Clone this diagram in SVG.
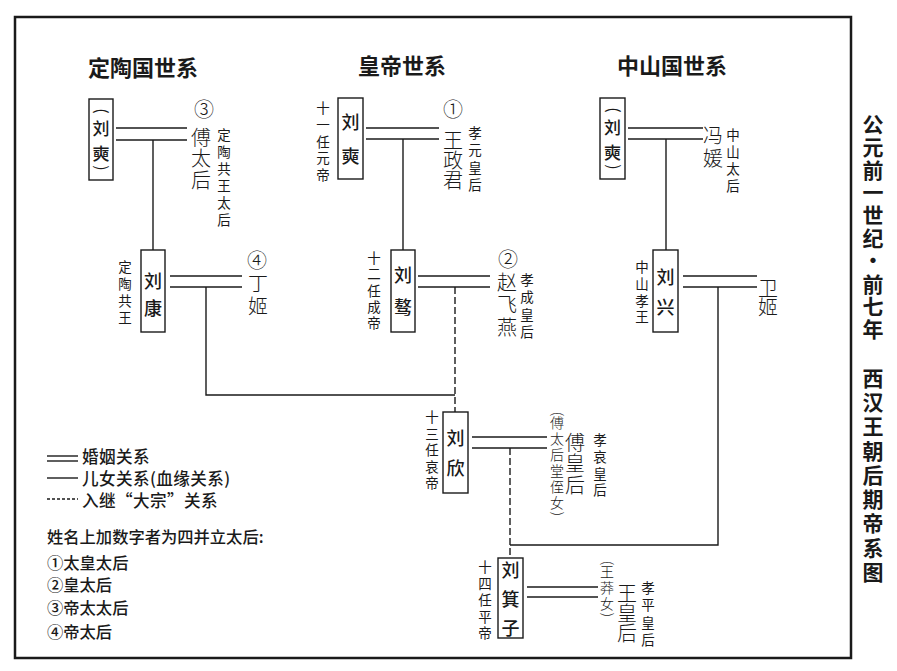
<svg xmlns="http://www.w3.org/2000/svg" width="897" height="671" viewBox="0 0 897 671">
<style>
text{font-family:"Noto Sans CJK SC","Noto Sans CJK TC",sans-serif;fill:#1a1a1a;text-anchor:middle}
.v{writing-mode:vertical-rl;text-anchor:start}
.ti{font-size:22px;font-weight:700}
.nm{font-size:18px;font-weight:500}
.np{font-size:17px;font-weight:500}
.bg{font-size:20px;font-weight:300}
.cn{font-size:20px;font-weight:300}
.sm{font-size:13.5px;font-weight:400}
.md{font-size:14px;font-weight:300}
.pp{font-size:16px;font-weight:400}
.pm{font-size:14px;font-weight:300}
.lg{font-size:16.3px;font-weight:500;text-anchor:start}
.lb{font-size:16.6px;font-weight:500;text-anchor:start;letter-spacing:0.4px}
.vt{font-size:21px;font-weight:700}
.bx{fill:#fff;stroke:#1a1a1a;stroke-width:1.4}
.ln{fill:none;stroke:#1a1a1a;stroke-width:1.4}
.da{stroke-dasharray:7 3}
.fr{fill:none;stroke:#1a1a1a;stroke-width:2.5}
</style>
<rect x="0" y="0" width="897" height="671" fill="#fff"/>
<rect class="fr" x="15" y="17" width="836" height="641"/>

<text class="ti" x="143" y="76">定陶国世系</text>
<text class="ti" x="402" y="74">皇帝世系</text>
<text class="ti" x="672" y="74">中山国世系</text>

<g id="connectors">
<line class="ln" x1="116" y1="128" x2="187" y2="128"/>
<line class="ln" x1="116" y1="140" x2="187" y2="140"/>
<line class="ln" x1="153" y1="140" x2="153" y2="250"/>
<line class="ln" x1="170" y1="276" x2="242" y2="276"/>
<line class="ln" x1="170" y1="287" x2="242" y2="287"/>
<polyline class="ln" points="206,287 206,395 455,395"/>
<line class="ln" x1="366" y1="128" x2="439" y2="128"/>
<line class="ln" x1="366" y1="139" x2="439" y2="139"/>
<line class="ln" x1="403" y1="139" x2="403" y2="250"/>
<line class="ln" x1="418" y1="276" x2="490" y2="276"/>
<line class="ln" x1="418" y1="287" x2="490" y2="287"/>
<line class="ln da" x1="455" y1="287" x2="455" y2="412"/>
<line class="ln" x1="628" y1="128" x2="703" y2="128"/>
<line class="ln" x1="628" y1="139" x2="703" y2="139"/>
<line class="ln" x1="666" y1="139" x2="666" y2="250"/>
<line class="ln" x1="683" y1="276" x2="757" y2="276"/>
<line class="ln" x1="683" y1="287" x2="757" y2="287"/>
<polyline class="ln" points="718,287 718,545 510,545"/>
<line class="ln" x1="472" y1="437" x2="547" y2="437"/>
<line class="ln" x1="472" y1="448" x2="547" y2="448"/>
<line class="ln da" x1="510" y1="448" x2="510" y2="558"/>
<line class="ln" x1="527" y1="587" x2="598" y2="587"/>
<line class="ln" x1="527" y1="597" x2="598" y2="597"/>
</g>

<g id="dt-liushi">
<rect class="bx" x="89" y="99" width="24" height="81"/>
<text class="pp" transform="translate(101 111) rotate(90)" x="0" y="5">(</text>
<text class="np v" x="101" y="120" letter-spacing="8">刘奭</text>
<text class="pp" transform="translate(101 168) rotate(90)" x="0" y="5">)</text>
</g>
<g id="dt-futaihou">
<text class="cn" x="204" y="117">③</text>
<text class="bg v" x="201" y="127" letter-spacing="1.5">傅太后</text>
<text class="sm v" x="224" y="128.25" letter-spacing="3.5">定陶共王太后</text>
</g>
<g id="dt-liukang">
<rect class="bx" x="141" y="250" width="24" height="82"/>
<text class="nm v" x="153" y="272" letter-spacing="9">刘康</text>
<text class="sm v" x="125" y="260.25" letter-spacing="3.5">定陶共王</text>
</g>
<g id="dt-dingji">
<text class="cn" x="257" y="268">④</text>
<text class="bg v" x="258" y="273" letter-spacing="3">丁姬</text>
</g>

<g id="hd-liushi">
<rect class="bx" x="338" y="98" width="25" height="81"/>
<text class="nm v" x="350.5" y="113" letter-spacing="16">刘奭</text>
<text class="sm v" x="323" y="101.25" letter-spacing="3.25">十一任元帝</text>
</g>
<g id="hd-wangzhengjun">
<text class="cn" x="453" y="117">①</text>
<text class="bg v" x="453" y="130" letter-spacing="0">王政君</text>
<text class="sm v" x="475" y="126.25" letter-spacing="3.8">孝元皇后</text>
</g>
<g id="hd-liuao">
<rect class="bx" x="391" y="250" width="24" height="82"/>
<text class="nm v" x="403" y="266" letter-spacing="14">刘骜</text>
<text class="sm v" x="374" y="251.25" letter-spacing="2.75">十二任成帝</text>
</g>
<g id="hd-zhaofeiyan">
<text class="cn" x="508" y="267">②</text>
<text class="bg v" x="507" y="272" letter-spacing="2.5">赵飞燕</text>
<text class="sm v" x="527" y="273.25" letter-spacing="3.8">孝成皇后</text>
</g>

<g id="zs-liushi">
<rect class="bx" x="600" y="98" width="25" height="81"/>
<text class="pp" transform="translate(612.5 110) rotate(90)" x="0" y="5">(</text>
<text class="np v" x="612.5" y="119" letter-spacing="8">刘奭</text>
<text class="pp" transform="translate(612.5 167) rotate(90)" x="0" y="5">)</text>
</g>
<g id="zs-fengyuan">
<text class="bg v" x="713" y="125" letter-spacing="3">冯媛</text>
<text class="sm v" x="733" y="128.25" letter-spacing="3.5">中山太后</text>
</g>
<g id="zs-liuxing">
<rect class="bx" x="653" y="250" width="25" height="82"/>
<text class="nm v" x="665.5" y="268" letter-spacing="12">刘兴</text>
<text class="sm v" x="642" y="260.25" letter-spacing="3.2">中山孝王</text>
</g>
<g id="zs-weiji">
<text class="bg v" x="768" y="278" letter-spacing="-1">卫姬</text>
</g>

<g id="liuxin">
<rect class="bx" x="443" y="412" width="25" height="81"/>
<text class="nm v" x="455.5" y="429" letter-spacing="12">刘欣</text>
<text class="sm v" x="432" y="410.25" letter-spacing="3">十三任哀帝</text>
</g>
<g id="fuhuanghou">
<text class="pm" transform="translate(557 414) rotate(90)" x="0" y="4.5">(</text>
<text class="md v" x="557" y="416" letter-spacing="2">傅太后堂侄女</text>
<text class="pm" transform="translate(557 514) rotate(90)" x="0" y="4.5">)</text>
<text class="bg v" x="575" y="432" letter-spacing="1.5">傅皇后</text>
<text class="sm v" x="600" y="433.25" letter-spacing="3.2">孝哀皇后</text>
</g>
<g id="liujizi">
<rect class="bx" x="498" y="558" width="25" height="80"/>
<text class="nm v" x="510.5" y="561" letter-spacing="11">刘箕子</text>
<text class="sm v" x="485" y="560.25" letter-spacing="3">十四任平帝</text>
</g>
<g id="wanghuanghou">
<text class="pm" transform="translate(607 563) rotate(90)" x="0" y="4.5">(</text>
<text class="md v" x="607" y="565" letter-spacing="2">王莽女</text>
<text class="pm" transform="translate(607 615) rotate(90)" x="0" y="4.5">)</text>
<text class="bg v" x="627" y="583" letter-spacing="0">王皇后</text>
<text class="sm v" x="648" y="581.25" letter-spacing="3.8">孝平皇后</text>
</g>

<g id="legend">
<line class="ln" x1="47" y1="456" x2="78" y2="456"/>
<line class="ln" x1="47" y1="461" x2="78" y2="461"/>
<line class="ln" x1="47" y1="478" x2="78" y2="478"/>
<line class="ln" x1="47" y1="499" x2="78" y2="499" stroke-dasharray="3 2" stroke-width="1"/>
<text class="lb" x="82" y="463">婚姻关系</text>
<text class="lb" x="82" y="485">儿女关系(血缘关系)</text>
<text class="lb" x="82" y="507">入继“大宗”关系</text>
<text class="lg" x="47" y="543">姓名上加数字者为四并立太后:</text>
<text class="lg" x="47" y="569">①太皇太后</text>
<text class="lg" x="47" y="591">②皇太后</text>
<text class="lg" x="47" y="614">③帝太太后</text>
<text class="lg" x="47" y="638">④帝太后</text>
</g>

<g id="title">
<text class="vt v" x="873" y="113.5" letter-spacing="1.8">公元前一世纪</text>
<text class="vt" x="873" y="268">·</text>
<text class="vt v" x="873" y="273.1" letter-spacing="1.8">前七年</text>
<text class="vt v" x="873" y="367.5" letter-spacing="3.25">西汉王朝后期帝系图</text>
</g>
</svg>
